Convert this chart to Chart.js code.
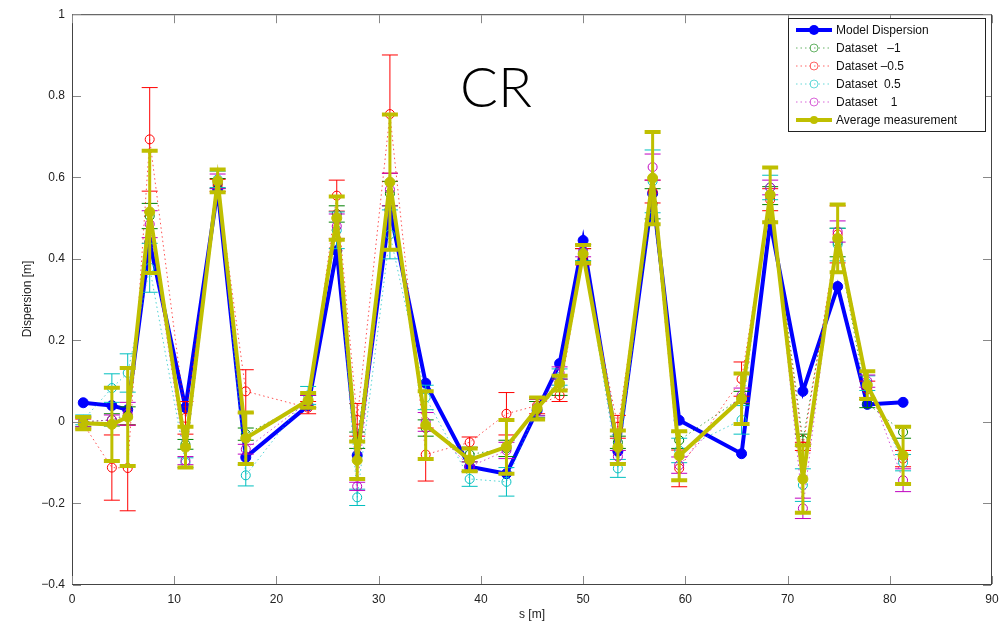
<!DOCTYPE html>
<html>
<head>
<meta charset="utf-8">
<script src="https://cdn.jsdelivr.net/npm/chart.js@4/dist/chart.umd.min.js"></script>
<style>
  html, body { margin: 0; padding: 0; background: #fff; }
  #wrap { width: 1008px; height: 622px; }
</style>
</head>
<body>
<div id="wrap"><canvas id="cr" width="1008" height="622"></canvas></div>
<script>
// s positions of the monitors [m]
const sPos = [1.1, 3.9, 5.45, 7.6, 11.1, 14.25, 17.0, 23.1, 25.9, 27.9, 31.1, 34.6, 38.9, 42.5, 45.5, 47.7, 50.0, 53.4, 56.8, 59.4, 65.5, 68.3, 71.5, 74.9, 77.8, 81.3];

const modelDisp = [0.047, 0.04, 0.03, 0.44, 0.035, 0.57, -0.087, 0.04, 0.42, -0.082, 0.52, 0.095, -0.11, -0.127, 0.028, 0.143, 0.445, -0.072, 0.56, 0.004, -0.078, 0.49, 0.075, 0.332, 0.043, 0.048];

// dataset -1 (green)
const dsM1 = [0.0, 0.005, 0.015, 0.505, -0.055, 0.585, -0.03, 0.05, 0.51, -0.045, 0.56, -0.015, -0.08, -0.065, 0.03, 0.085, 0.41, -0.05, 0.535, -0.045, 0.06, 0.555, -0.045, 0.44, 0.045, -0.025];
const errM1 = [0.012, 0.015, 0.022, 0.031, 0.012, 0.012, 0.015, 0.015, 0.02, 0.02, 0.03, 0.02, 0.018, 0.02, 0.02, 0.02, 0.015, 0.015, 0.037, 0.02, 0.015, 0.022, 0.015, 0.035, 0.01, 0.015];

// dataset -0.5 (red)
const dsM05 = [-0.005, -0.112, -0.113, 0.693, 0.01, 0.58, 0.075, 0.035, 0.555, 0.005, 0.755, -0.08, -0.05, 0.02, 0.04, 0.065, 0.405, -0.012, 0.565, -0.114, 0.105, 0.545, -0.06, 0.46, 0.08, -0.09];
const errM05 = [0.012, 0.08, 0.105, 0.127, 0.04, 0.015, 0.053, 0.015, 0.038, 0.04, 0.145, 0.065, 0.013, 0.052, 0.02, 0.015, 0.02, 0.028, 0.028, 0.045, 0.042, 0.027, 0.01, 0.07, 0.02, 0.02];

// dataset 0.5 (cyan)
const dsP05 = [0.005, 0.083, 0.12, 0.378, -0.1, 0.595, -0.131, 0.065, 0.47, -0.185, 0.46, 0.06, -0.14, -0.147, 0.035, 0.11, 0.415, -0.114, 0.59, -0.07, 0.005, 0.575, -0.155, 0.435, 0.095, -0.1];
const errP05 = [0.012, 0.035, 0.047, 0.06, 0.012, 0.02, 0.026, 0.022, 0.045, 0.02, 0.06, 0.03, 0.018, 0.035, 0.02, 0.02, 0.02, 0.022, 0.077, 0.03, 0.035, 0.03, 0.04, 0.04, 0.018, 0.02];

// dataset 1 (magenta)
const dsP1 = [0.0, 0.005, 0.02, 0.485, -0.095, 0.59, -0.067, 0.05, 0.48, -0.158, 0.57, 0.0, -0.11, -0.07, 0.035, 0.12, 0.42, -0.085, 0.625, -0.106, 0.065, 0.575, -0.212, 0.467, 0.1, -0.143];
const errP1 = [0.012, 0.012, 0.028, 0.033, 0.01, 0.018, 0.012, 0.015, 0.03, 0.01, 0.04, 0.023, 0.012, 0.02, 0.02, 0.015, 0.015, 0.015, 0.032, 0.02, 0.018, 0.018, 0.025, 0.026, 0.015, 0.028];

// average measurement (olive)
const avgDisp = [-0.003, -0.006, 0.012, 0.515, -0.062, 0.591, -0.04, 0.053, 0.5, -0.094, 0.588, -0.008, -0.093, -0.061, 0.033, 0.095, 0.412, -0.062, 0.598, -0.083, 0.057, 0.557, -0.14, 0.45, 0.09, -0.082];
const avgErr = [0.015, 0.09, 0.12, 0.15, 0.05, 0.028, 0.063, 0.018, 0.053, 0.046, 0.166, 0.083, 0.028, 0.066, 0.027, 0.018, 0.022, 0.041, 0.113, 0.06, 0.062, 0.067, 0.083, 0.083, 0.034, 0.07];

const xTicks = [0, 10, 20, 30, 40, 50, 60, 70, 80, 90];
const yTicks = [-0.4, -0.2, 0, 0.2, 0.4, 0.6, 0.8, 1];

const BLUE = '#0000ff', GREEN = '#008000', RED = '#ff0000', CYAN = '#00bfbf', MAG = '#bf00bf', OLIVE = '#bfbf00';
const FONT = '"Liberation Sans", Arial, Helvetica, sans-serif';

const pts = (ys) => ys.map((y, i) => ({ x: sPos[i], y: y }));

function measSet(label, ys, errs, color, order) {
  return {
    label: label, data: pts(ys), errors: errs, errStyle: { color: color, width: 1, cap: 8 },
    borderColor: color + 'b0', borderWidth: 1, borderDash: [1.5, 3],
    pointRadius: 4.5, pointBorderColor: color, pointBackgroundColor: 'rgba(0,0,0,0)', pointBorderWidth: 1,
    order: order, legendKind: 'dot'
  };
}

const datasets = [
  { label: 'Model Dispersion', data: pts(modelDisp), borderColor: BLUE, borderWidth: 4,
    pointRadius: 5, pointBackgroundColor: BLUE, pointBorderColor: BLUE, pointBorderWidth: 1, order: 6, legendKind: 'solid' },
  measSet('Dataset   \u20131', dsM1, errM1, GREEN, 5),
  measSet('Dataset \u20130.5', dsM05, errM05, RED, 4),
  measSet('Dataset  0.5', dsP05, errP05, CYAN, 3),
  measSet('Dataset    1', dsP1, errP1, MAG, 2),
  { label: 'Average measurement', data: pts(avgDisp), errors: avgErr, errStyle: { color: OLIVE, width: 3, cap: 8, capWidth: 4 },
    borderColor: OLIVE, borderWidth: 4, pointRadius: 5, pointBackgroundColor: OLIVE, pointBorderColor: OLIVE,
    pointBorderWidth: 1, order: 1, legendKind: 'avg' }
];

// error bars, drawn right after each dataset so layering follows the dataset order
const errorBars = {
  id: 'errorBars',
  afterDatasetDraw(chart, args) {
    const ds = chart.data.datasets[args.index];
    if (!ds.errors) return;
    const ctx = chart.ctx, ys = chart.scales.y, xs = chart.scales.x, a = chart.chartArea;
    const st = ds.errStyle;
    ctx.save();
    ctx.beginPath();
    ctx.rect(a.left, a.top, a.right - a.left, a.bottom - a.top);
    ctx.clip();
    ctx.strokeStyle = st.color;
    ds.data.forEach((p, i) => {
      const e = ds.errors[i];
      const px = xs.getPixelForValue(p.x);
      const top = ys.getPixelForValue(p.y + e), bot = ys.getPixelForValue(p.y - e);
      ctx.lineWidth = st.width;
      ctx.beginPath();
      ctx.moveTo(px, top); ctx.lineTo(px, bot);
      ctx.stroke();
      ctx.lineWidth = st.capWidth || st.width;
      ctx.beginPath();
      ctx.moveTo(px - st.cap, top); ctx.lineTo(px + st.cap, top);
      ctx.moveTo(px - st.cap, bot); ctx.lineTo(px + st.cap, bot);
      ctx.stroke();
    });
    ctx.restore();
  }
};

// matlab style box, inward ticks, labels, title text and legend
const decor = {
  id: 'decor',
  afterDraw(chart) {
    const ctx = chart.ctx, a = chart.chartArea, xs = chart.scales.x, ys = chart.scales.y;
    ctx.save();
    ctx.strokeStyle = '#444';
    ctx.lineWidth = 1;
    ctx.strokeRect(a.left + 0.5, a.top + 0.5, a.right - a.left - 1, a.bottom - a.top - 1);
    ctx.strokeStyle = '#888';
    ctx.beginPath();
    xTicks.forEach(v => {
      const px = Math.round(xs.getPixelForValue(v)) + 0.5;
      ctx.moveTo(px, a.bottom - 1); ctx.lineTo(px, a.bottom - 9);
      ctx.moveTo(px, a.top + 1); ctx.lineTo(px, a.top + 9);
    });
    yTicks.forEach(v => {
      const py = Math.round(ys.getPixelForValue(v)) + 0.5;
      ctx.moveTo(a.left + 1, py); ctx.lineTo(a.left + 9, py);
      ctx.moveTo(a.right - 1, py); ctx.lineTo(a.right - 9, py);
    });
    ctx.stroke();

    // axis titles
    ctx.fillStyle = '#222';
    ctx.font = '12px ' + FONT;
    ctx.textAlign = 'center';
    ctx.textBaseline = 'middle';
    ctx.fillText('s [m]', (a.left + a.right) / 2, 615);
    ctx.save();
    ctx.translate(28, 299);
    ctx.rotate(-Math.PI / 2);
    ctx.fillText('Dispersion [m]', 0, 0);
    ctx.restore();

    // big CR label
    ctx.fillStyle = '#000';
    ctx.font = '300 56px Lato, "DejaVu Sans", ' + FONT;
    ctx.textBaseline = 'alphabetic';
    ctx.fillText('CR', 496, 107);

    // legend
    const lx = 788, ly = 18, lw = 197, lh = 113;
    ctx.fillStyle = '#fff';
    ctx.fillRect(lx, ly, lw, lh);
    ctx.strokeStyle = '#222';
    ctx.lineWidth = 1;
    ctx.strokeRect(lx + 0.5, ly + 0.5, lw, lh);
    ctx.font = '12px ' + FONT;
    ctx.textAlign = 'left';
    ctx.textBaseline = 'middle';
    chart.data.datasets.forEach((ds, i) => {
      const yy = 30 + i * 18;
      const c = ds.pointBorderColor;
      ctx.save();
      if (ds.legendKind === 'dot') {
        ctx.strokeStyle = c; ctx.globalAlpha = 0.6; ctx.lineWidth = 1; ctx.setLineDash([1.5, 3]);
        ctx.beginPath(); ctx.moveTo(796, yy); ctx.lineTo(832, yy); ctx.stroke();
        ctx.setLineDash([]);
        ctx.beginPath(); ctx.arc(814, yy, 4, 0, Math.PI * 2); ctx.stroke();
      } else {
        ctx.strokeStyle = c; ctx.lineWidth = 4;
        ctx.beginPath(); ctx.moveTo(796, yy); ctx.lineTo(832, yy); ctx.stroke();
        ctx.fillStyle = c;
        ctx.beginPath(); ctx.arc(814, yy, ds.legendKind === 'solid' ? 5 : 4, 0, Math.PI * 2); ctx.fill();
      }
      ctx.restore();
      ctx.fillStyle = '#111';
      ctx.fillText(ds.label, 836, yy + 1);
    });
    ctx.restore();
  }
};

const fmtY = v => {
  const r = Math.round(v * 10) / 10;
  if (r === 0) return '0';
  if (r === 1) return '1';
  return (r < 0 ? '\u2212' : '') + Math.abs(r).toFixed(1);
};

new Chart(document.getElementById('cr').getContext('2d'), {
  type: 'line',
  data: { datasets: datasets },
  options: {
    responsive: false,
    animation: false,
    layout: { padding: { top: 13, right: 16, left: 0, bottom: 0 } },
    plugins: { legend: { display: false }, tooltip: { enabled: false } },
    elements: { line: { tension: 0 } },
    scales: {
      x: {
        type: 'linear', min: 0, max: 90,
        afterFit: s => { s.height = 37; },
        afterBuildTicks: s => { s.ticks = xTicks.map(v => ({ value: v })); },
        grid: { display: false, drawTicks: false },
        border: { display: false },
        ticks: { font: { family: FONT, size: 12 }, color: '#222', padding: 7, maxRotation: 0 }
      },
      y: {
        min: -0.4, max: 1,
        afterFit: s => { s.width = 72; },
        afterBuildTicks: s => { s.ticks = yTicks.map(v => ({ value: v })); },
        grid: { display: false, drawTicks: false },
        border: { display: false },
        ticks: { font: { family: FONT, size: 12 }, color: '#222', padding: 7, callback: fmtY }
      }
    }
  },
  plugins: [errorBars, decor]
});
</script>
</body>
</html>
